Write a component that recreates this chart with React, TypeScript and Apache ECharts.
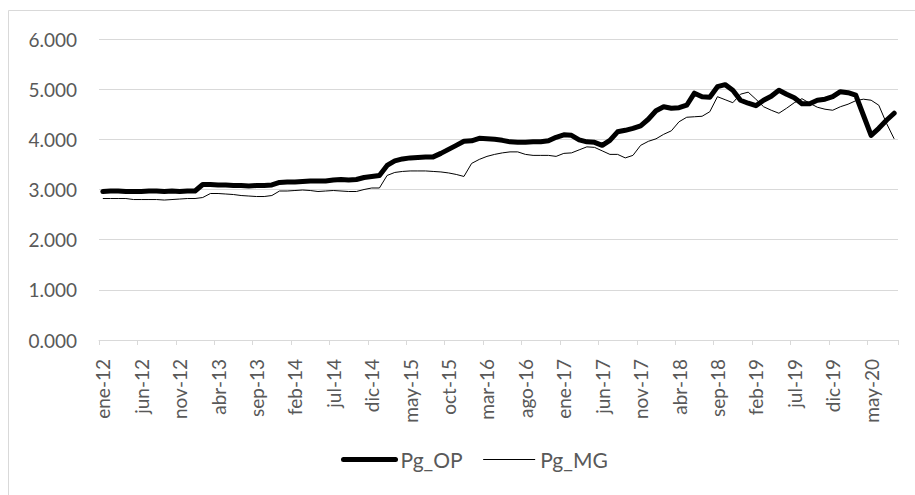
import React, { useEffect, useRef } from "react";
import * as echarts from "echarts";

const monthNames = ["ene", "feb", "mar", "abr", "may", "jun", "jul", "ago", "sep", "oct", "nov", "dic"];
const years = [12, 13, 14, 15, 16, 17, 18, 19, 20];
const lastYearMonths = 8; // ene-20 .. ago-20

const categories: string[] = [];
years.forEach((y, yi) => {
  const n = yi === years.length - 1 ? lastYearMonths : 12;
  for (let m = 0; m < n; m++) categories.push(`${monthNames[m]}-${y}`);
});

const pgOP = [
  2960, 2970, 2970, 2960, 2960, 2960, 2970, 2970, 2960, 2970, 2960, 2970, 2970,
  3100, 3100, 3090, 3090, 3080, 3080, 3070, 3080, 3080, 3090, 3140, 3150,
  3150, 3160, 3170, 3170, 3170, 3190, 3200, 3190, 3200, 3240, 3260, 3280,
  3480, 3570, 3610, 3630, 3640, 3650, 3650, 3720, 3800, 3880, 3960, 3970,
  4020, 4010, 4000, 3980, 3950, 3940, 3940, 3950, 3950, 3970, 4040, 4090,
  4080, 3990, 3950, 3940, 3880, 3980, 4150, 4180, 4220, 4270, 4400, 4570,
  4650, 4620, 4630, 4680, 4920, 4850, 4840, 5050, 5090, 4980, 4780, 4720,
  4670, 4780, 4860, 4980, 4900, 4830, 4710, 4710, 4780, 4800, 4850, 4950,
  4930, 4880, 4480, 4080, 4220, 4380, 4520,
];

const pgMG = [
  2820, 2820, 2820, 2820, 2800, 2800, 2800, 2800, 2790, 2800, 2810, 2820, 2820,
  2840, 2920, 2920, 2910, 2900, 2880, 2870, 2860, 2860, 2880, 2970, 2970,
  2980, 2990, 2980, 2960, 2970, 2980, 2970, 2960, 2960, 3000, 3030, 3030,
  3280, 3340, 3360, 3370, 3370, 3370, 3360, 3350, 3330, 3300, 3260, 3520,
  3600, 3660, 3700, 3730, 3750, 3750, 3700, 3680, 3680, 3680, 3660, 3720,
  3730, 3790, 3850, 3840, 3770, 3700, 3700, 3630, 3680, 3880, 3960, 4010,
  4100, 4170, 4350, 4440, 4450, 4460, 4550, 4850, 4790, 4730, 4900, 4940,
  4800, 4650, 4580, 4520, 4620, 4730, 4810, 4720, 4640, 4600, 4580, 4650,
  4700, 4770, 4800, 4780, 4680, 4320, 4010,
];

const yTicks = [0, 1000, 2000, 3000, 4000, 5000, 6000];

const fmt = (v: number) => {
  const th = Math.floor(v / 1000);
  const rest = String(Math.round(v % 1000)).padStart(3, "0");
  return `${th}.${rest}`;
};

export default function App() {
  const ref = useRef<HTMLDivElement>(null);
  useEffect(() => {
    if (!ref.current) return;
    const chart = echarts.init(ref.current, undefined, { renderer: "svg" });
    const font = "Lato, 'Open Sans', sans-serif";
    chart.setOption({
      animation: false,
      backgroundColor: "#ffffff",
      textStyle: { fontFamily: font },
      graphic: [
        {
          type: "rect",
          shape: { x: 8.5, y: 10.5, width: 1000, height: 1000 },
          style: { fill: "none", stroke: "#d9d9d9", lineWidth: 1 },
          silent: true,
        },
      ],
      grid: { left: 99, right: 17, top: 39, bottom: 155, containLabel: false },
      legend: {
        bottom: 20,
        left: 336,
        itemWidth: 52,
        itemHeight: 14,
        itemGap: 20,
        textStyle: { color: "#595959", fontSize: 21, fontFamily: font },
        data: [
          {
            name: "Pg_OP",
            itemStyle: { opacity: 0 },
            lineStyle: { width: 5, color: "#000", cap: "round" },
          },
          {
            name: "Pg_MG",
            itemStyle: { opacity: 0 },
            lineStyle: { width: 1, color: "#000" },
          },
        ],
      },
      xAxis: {
        type: "category",
        data: categories,
        boundaryGap: true,
        axisLine: { lineStyle: { color: "#d9d9d9", width: 1 } },
        axisTick: { show: true, interval: 4, length: 5, lineStyle: { color: "#d9d9d9" } },
        axisLabel: {
          interval: 4,
          rotate: 90,
          margin: 19,
          color: "#595959",
          fontSize: 19,
          fontFamily: font,
        },
        splitLine: { show: false },
      },
      yAxis: {
        type: "value",
        min: 0,
        max: 6000,
        interval: 1000,
        axisLine: { show: false },
        axisTick: { show: false },
        axisLabel: {
          color: "#595959",
          fontSize: 19,
          fontFamily: font,
          margin: 22,
          formatter: (v: number) => (yTicks.includes(v) ? fmt(v) : ""),
        },
        splitLine: { lineStyle: { color: "#d9d9d9", width: 1 } },
      },
      series: [
        {
          name: "Pg_OP",
          type: "line",
          data: pgOP,
          symbol: "none",
          showSymbol: false,
          lineStyle: { color: "#000000", width: 5, cap: "round", join: "round" },
          itemStyle: { color: "#000000" },
        },
        {
          name: "Pg_MG",
          type: "line",
          data: pgMG,
          symbol: "none",
          showSymbol: false,
          lineStyle: { color: "#000000", width: 1, join: "round" },
          itemStyle: { color: "#000000" },
        },
      ],
    });
    return () => chart.dispose();
  }, []);
  return (
    <div
      ref={ref}
      style={{ position: "absolute", left: 0, top: 0, width: 915, height: 495 }}
    />
  );
}
